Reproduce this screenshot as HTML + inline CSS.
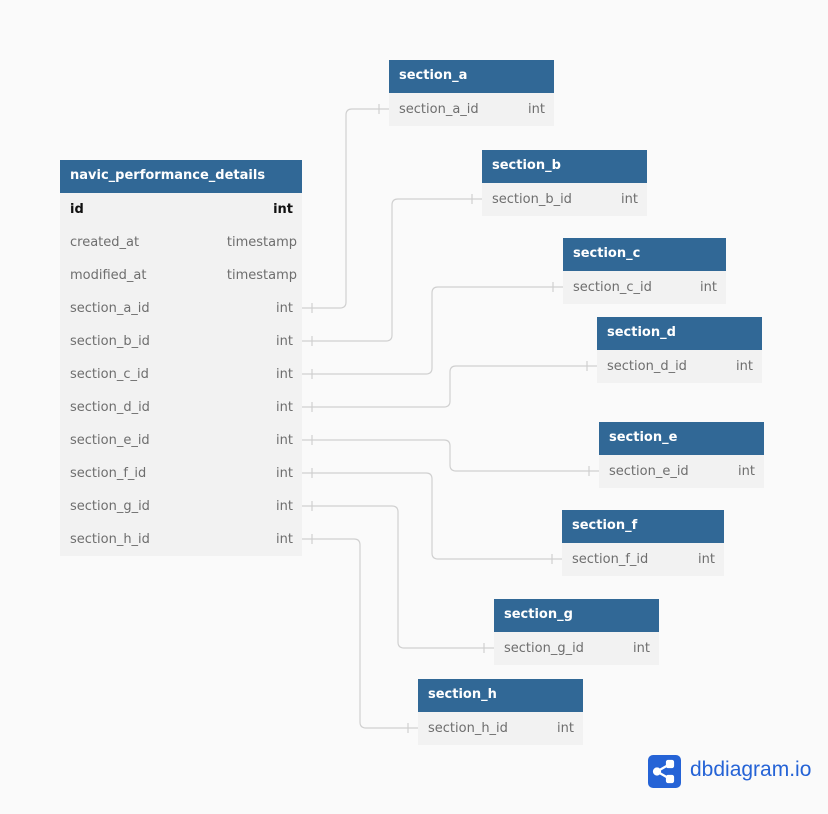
<!DOCTYPE html>
<html><head><style>
body{margin:0;width:828px;height:814px;background:#fafafa;font-family:"DejaVu Sans","Liberation Sans",sans-serif;font-size:13px;position:relative;overflow:hidden}
.t{position:absolute;background:#f2f2f2}
.h{background:#316896;color:#fff;font-weight:bold;height:33px;line-height:32px;padding-left:10px}
.r{height:33px;line-height:33px;padding:0 9px 0 10px;color:#6e6e6e;display:flex;justify-content:space-between}
.r.k{color:#111;font-weight:bold}
svg{position:absolute;left:0;top:0}
</style></head><body>
<svg width="828" height="814" fill="none" stroke="#d0d0d0" stroke-width="1.2">
<path d="M302 308H340Q346 308 346 302V115Q346 109 352 109H389"/>
<path d="M302 341H386Q392 341 392 335V205Q392 199 398 199H482"/>
<path d="M302 374H426Q432 374 432 368V293Q432 287 438 287H563"/>
<path d="M302 407H444Q450 407 450 401V372Q450 366 456 366H597"/>
<path d="M302 440H444Q450 440 450 446V465Q450 471 456 471H599"/>
<path d="M302 473H426Q432 473 432 479V553Q432 559 438 559H562"/>
<path d="M302 506H392Q398 506 398 512V642Q398 648 404 648H494"/>
<path d="M302 539H354Q360 539 360 545V722Q360 728 366 728H418"/>
<g>
<path d="M312 303v10M312 336v10M312 369v10M312 402v10M312 435v10M312 468v10M312 501v10M312 534v10"/>
<path d="M379 104v10M472 194v10M553 282v10M587 361v10M589 466v10M552 554v10M484 643v10M408 723v10"/>
</g>
</svg>
<div class="t" style="left:60px;top:160px;width:242px">
<div class="h">navic_performance_details</div>
<div class="r k"><span>id</span><span>int</span></div>
<div class="r"><span>created_at</span><span style="margin-right:-4px">timestamp</span></div>
<div class="r"><span>modified_at</span><span style="margin-right:-4px">timestamp</span></div>
<div class="r"><span>section_a_id</span><span>int</span></div>
<div class="r"><span>section_b_id</span><span>int</span></div>
<div class="r"><span>section_c_id</span><span>int</span></div>
<div class="r"><span>section_d_id</span><span>int</span></div>
<div class="r"><span>section_e_id</span><span>int</span></div>
<div class="r"><span>section_f_id</span><span>int</span></div>
<div class="r"><span>section_g_id</span><span>int</span></div>
<div class="r"><span>section_h_id</span><span>int</span></div>
</div>
<div class="t" style="left:389px;top:60px;width:165px"><div class="h">section_a</div><div class="r"><span>section_a_id</span><span>int</span></div></div>
<div class="t" style="left:482px;top:150px;width:165px"><div class="h">section_b</div><div class="r"><span>section_b_id</span><span>int</span></div></div>
<div class="t" style="left:563px;top:238px;width:163px"><div class="h">section_c</div><div class="r"><span>section_c_id</span><span>int</span></div></div>
<div class="t" style="left:597px;top:317px;width:165px"><div class="h">section_d</div><div class="r"><span>section_d_id</span><span>int</span></div></div>
<div class="t" style="left:599px;top:422px;width:165px"><div class="h">section_e</div><div class="r"><span>section_e_id</span><span>int</span></div></div>
<div class="t" style="left:562px;top:510px;width:162px"><div class="h">section_f</div><div class="r"><span>section_f_id</span><span>int</span></div></div>
<div class="t" style="left:494px;top:599px;width:165px"><div class="h">section_g</div><div class="r"><span>section_g_id</span><span>int</span></div></div>
<div class="t" style="left:418px;top:679px;width:165px"><div class="h">section_h</div><div class="r"><span>section_h_id</span><span>int</span></div></div>
<div style="position:absolute;left:648px;top:755px;width:33px;height:33px;border-radius:5px;background:#2563d6">
<svg width="33" height="33" stroke="#fff" stroke-width="2.2" fill="#fff"><path d="M9 16.5L22 9M9 16.5L22 24"/><circle cx="9" cy="16.5" r="3"/><rect x="19" y="6" width="6" height="6" rx="1"/><rect x="19" y="21" width="6" height="6" rx="1"/></svg>
</div>
<div style="position:absolute;left:690px;top:758px;font-size:21px;color:#2563d6;font-family:'Liberation Sans',sans-serif">dbdiagram.io</div>
</body></html>
